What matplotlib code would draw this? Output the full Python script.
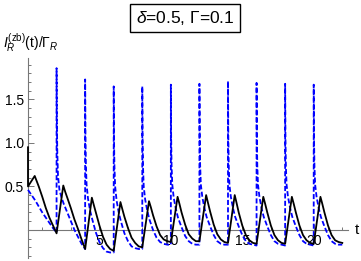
import matplotlib
matplotlib.use("Agg")
import matplotlib.pyplot as plt
from matplotlib.ticker import FixedLocator

plt.rcParams['font.family'] = 'Liberation Sans'
plt.rcParams['mathtext.fontset'] = 'custom'
plt.rcParams['mathtext.rm'] = 'Liberation Sans'
plt.rcParams['mathtext.it'] = 'Liberation Sans:italic'

AXIS_GRAY = "#777777"
BLUE = "#0000ff"

# pulse times (start of each period)
SPIKE_T = [2, 4, 6, 8, 10, 12, 14, 16, 18, 20]

# dashed blue curve: first interval, then one row per period (offsets after the spike)
BLUE_T0 = [0, 0.25, 0.5, 0.75, 1.0, 1.25, 1.5, 1.75, 2.0]
BLUE_V0 = [0.46, 0.40, 0.34, 0.27, 0.20, 0.14, 0.08, 0.02, -0.03]
BLUE_OFF = [0, 0.02, 0.05, 0.1, 0.2, 0.35, 0.5, 0.75, 1.0, 1.25, 1.5, 1.75, 2.0]
BLUE_ROWS = [
    [1.86, 1.25, 0.90, 0.62, 0.46, 0.37, 0.30, 0.20, 0.10, 0.00, -0.08, -0.16, -0.22],
    [1.73, 1.10, 0.76, 0.52, 0.36, 0.22, 0.12, -0.03, -0.14, -0.21, -0.25, -0.26, -0.26],
    [1.65, 1.05, 0.73, 0.50, 0.34, 0.20, 0.10, -0.04, -0.13, -0.19, -0.21, -0.22, -0.22],
    [1.65, 1.05, 0.73, 0.50, 0.35, 0.22, 0.12, 0.00, -0.09, -0.14, -0.16, -0.17, -0.17],
    [1.67, 1.07, 0.74, 0.52, 0.37, 0.24, 0.14, 0.03, -0.07, -0.13, -0.16, -0.17, -0.17],
    [1.68, 1.07, 0.74, 0.52, 0.38, 0.25, 0.15, 0.04, -0.06, -0.13, -0.16, -0.17, -0.17],
    [1.71, 1.08, 0.75, 0.52, 0.38, 0.25, 0.15, 0.04, -0.06, -0.13, -0.16, -0.17, -0.18],
    [1.69, 1.07, 0.74, 0.52, 0.38, 0.25, 0.15, 0.04, -0.06, -0.13, -0.16, -0.17, -0.18],
    [1.68, 1.07, 0.74, 0.52, 0.38, 0.25, 0.15, 0.04, -0.06, -0.13, -0.16, -0.17, -0.18],
    [1.67, 1.07, 0.74, 0.52, 0.38, 0.25, 0.15, 0.04, -0.06, -0.13, -0.16, -0.17, -0.17],
]

# solid black curve
BLACK_T0 = [0, 0, 0.47, 0.75, 1.0, 1.25, 1.5, 1.75, 2.0]
BLACK_V0 = [0.95, 0.50, 0.62, 0.50, 0.38, 0.25, 0.14, 0.05, -0.04]
BLACK_OFF = [0, 0.47, 0.6, 0.75, 1.0, 1.25, 1.5, 1.75, 2.0]
BLACK_ROWS = [
    [-0.04, 0.51, 0.44, 0.37, 0.25, 0.12, 0.01, -0.11, -0.22],
    [-0.22, 0.37, 0.29, 0.20, 0.05, -0.08, -0.17, -0.22, -0.24],
    [-0.24, 0.32, 0.24, 0.15, 0.02, -0.09, -0.15, -0.19, -0.20],
    [-0.20, 0.33, 0.26, 0.17, 0.04, -0.06, -0.11, -0.13, -0.14],
    [-0.14, 0.38, 0.30, 0.20, 0.06, -0.05, -0.10, -0.13, -0.13],
    [-0.13, 0.40, 0.31, 0.21, 0.06, -0.05, -0.11, -0.14, -0.15],
    [-0.15, 0.40, 0.31, 0.20, 0.05, -0.06, -0.12, -0.15, -0.16],
    [-0.16, 0.38, 0.30, 0.20, 0.05, -0.06, -0.12, -0.15, -0.16],
    [-0.16, 0.38, 0.30, 0.20, 0.05, -0.06, -0.12, -0.15, -0.16],
    [-0.16, 0.38, 0.30, 0.20, 0.05, -0.06, -0.12, -0.14, -0.15],
]

X_TICKS = [5, 10, 15, 20]
Y_TICKS = [0.5, 1.0, 1.5]
Y_TICK_LABELS = ["0.5", "1.0", "1.5"]


def build(t0, v0, offsets, rows):
    t, v = list(t0), list(v0)
    for s, row in zip(SPIKE_T, rows):
        t += [s + o for o in offsets]
        v += row
    return t, v


fig = plt.figure(figsize=(3.61, 2.61), dpi=100)
ax = fig.add_axes([28 / 361, 3.3 / 261, 320 / 361, 200 / 261])
ax.set_xlim(0, 22.4)
ax.set_ylim(-0.32, 1.98)

bt, bv = build(BLUE_T0, BLUE_V0, BLUE_OFF, BLUE_ROWS)
kt, kv = build(BLACK_T0, BLACK_V0, BLACK_OFF, BLACK_ROWS)
ax.plot(bt, bv, color=BLUE, lw=1.3, dashes=(2.8, 1.3), zorder=3, clip_on=False)
ax.plot(kt, kv, color="black", lw=1.3, zorder=4, clip_on=False)

# Mathematica style axes crossing at the origin
for side in ("top", "right"):
    ax.spines[side].set_visible(False)
ax.spines["bottom"].set_position(("data", 0))
for side in ("bottom", "left"):
    ax.spines[side].set_color(AXIS_GRAY)
    ax.spines[side].set_linewidth(0.8)

ax.set_xticks(X_TICKS)
ax.set_xticklabels([str(x) for x in X_TICKS])
ax.xaxis.set_minor_locator(FixedLocator([i for i in range(1, 23) if i % 5]))
ax.set_yticks(Y_TICKS)
ax.set_yticklabels(Y_TICK_LABELS)
ax.yaxis.set_minor_locator(FixedLocator([round(-0.3 + 0.1 * i, 1) for i in range(23)]))
ax.tick_params(which="both", direction="in", color=AXIS_GRAY, width=0.7,
               labelsize=10, labelcolor="black")
ax.tick_params(which="major", length=4)
ax.tick_params(which="minor", length=2)
ax.tick_params(axis="x", pad=3)
ax.tick_params(axis="y", pad=3)

fig.text(357 / 361, 1 - 230 / 261, "t", fontsize=11, ha="center", va="center")
fig.text(3 / 361, 1 - 43 / 261, r"$I_R^{\rm (zb)}\rm (t)/\Gamma_{\it R}$",
         fontsize=10, ha="left", va="center")
fig.text(185 / 361, 1 - 18 / 261, r"$\delta$=0.5, Γ=0.1", fontsize=12.5,
         ha="center", va="center",
         bbox=dict(boxstyle="square,pad=0.3", fc="white", ec="black", lw=1))

fig.savefig("out.png", dpi=100)
